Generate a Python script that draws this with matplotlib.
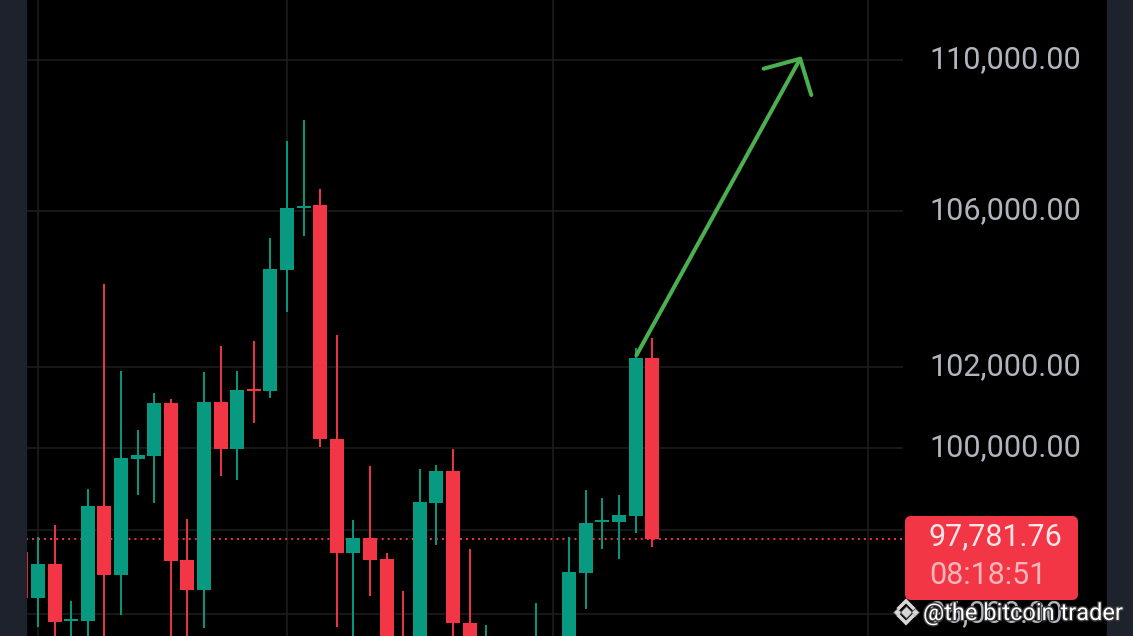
import matplotlib
matplotlib.use("Agg")
import matplotlib.pyplot as plt
import numpy as np
from matplotlib.patches import FancyBboxPatch, Rectangle
from matplotlib.lines import Line2D
from matplotlib.ticker import FixedLocator, NullLocator, FuncFormatter
from matplotlib.transforms import IdentityTransform, ScaledTranslation
from matplotlib import patheffects

plt.rcParams['font.family'] = ['Roboto', 'DejaVu Sans']

# candle data (index -1 is the one cut by the left edge)
candle_idx = list(range(-1, 38))
opens = [97476, 96381, 97190, 95835, 95835, 98585, 96929, 99732, 99805, 101111,
         97286, 96571, 101136, 99976, 101450, 101410, 104461, 106079, 106159, 100222,
         97452, 97810, 97310, 95250, 94900, 98659, 99439, 95788, 94600, 95300,
         94500, 95000, 95100, 95300, 96976, 98190, 98195, 98342, 102231]
highs = [97700, 97833, 98122, 96310, 99000, 104100, 101900, 100444, 101358, 101210,
         98268, 101876, 102538, 101901, 102667, 105282, 107828, 108384, 106556, 102820,
         98244, 99561, 97452, 96548, 99488, 99585, 99976, 97548, 95740, 95400,
         95300, 96262, 95400, 97833, 98976, 98780, 98854, 102487, 102744]
lows = [96200, 95693, 95300, 95200, 95300, 95200, 95976, 98854, 98659, 95300,
        95400, 95670, 99317, 99220, 100617, 101234, 103385, 105333, 100025, 95693,
        95300, 96429, 94900, 94300, 94600, 97643, 95200, 94700, 94200, 94100,
        93900, 94800, 94600, 95000, 96119, 97548, 97310, 97929, 97595]
closes = [96381, 97190, 95811, 95880, 98585, 96929, 99756, 99829, 101111, 97262,
          96571, 101136, 99976, 101432, 101410, 104487, 106079, 106132, 100222, 97452,
          97810, 97286, 95200, 94700, 98683, 99439, 95788, 95000, 95300, 94500,
          95000, 95350, 95300, 97000, 98171, 98244, 98366, 102231, 97781.76]

last_price = 97781.76
countdown = "08:18:51"
price_ticks = [96000, 98000, 100000, 102000, 106000, 110000]
time_grid = [0, 15, 31, 50]
arrow_start = (36.05, 102300)
arrow_end = (46.0, 110100)
watermark = "@the bitcoin trader"

UP = '#089981'
DOWN = '#f23645'
W, H = 1133, 636

fig = plt.figure(figsize=(W / 100, H / 100), dpi=100, facecolor='black')
fig.add_artist(Rectangle((0, 0), 26 / W, 1, transform=fig.transFigure,
                         color='#1e222d', zorder=0.5))
fig.add_artist(Rectangle((1107 / W, 0), 26 / W, 1, transform=fig.transFigure,
                         color='#1e222d', zorder=0.5))

ax = fig.add_axes([26 / W, 0, 877 / W, 1])
ax.set_facecolor('black')
ax.set_yscale('log')
ax.set_ylim(95482, 111634)
ax.set_xlim(-0.723, 52.11)

x = np.array(candle_idx)
o = np.array(opens, dtype=float)
c = np.array(closes, dtype=float)
hi = np.array(highs, dtype=float)
lo = np.array(lows, dtype=float)
cols = np.where(c >= o, UP, DOWN)

ax.vlines(x, lo, hi, colors=cols, linewidth=1.4, zorder=2)
ax.bar(x, np.abs(c - o), bottom=np.minimum(o, c), width=0.84, color=cols,
       linewidth=0, zorder=3)

# last price line
ax.axhline(last_price, color=DOWN, linewidth=1.4, linestyle=(0, (1, 2.1)), zorder=1.5)

# grid and axis
ax.yaxis.set_major_locator(FixedLocator(price_ticks))
ax.yaxis.set_minor_locator(NullLocator())
ax.yaxis.set_major_formatter(FuncFormatter(lambda v, p: f"{v:,.2f}"))
ax.xaxis.set_major_locator(FixedLocator(time_grid))
ax.xaxis.set_minor_locator(NullLocator())
ax.grid(True, color='#1c1c1c', linewidth=1.2, zorder=0)
ax.set_axisbelow(True)
ax.yaxis.tick_right()
ax.tick_params(axis='y', length=0, pad=18.7, labelsize=22, labelcolor='#b2b5be')
ax.tick_params(axis='x', length=0, labelbottom=False)
for s in ax.spines.values():
    s.set_visible(False)
lift = ScaledTranslation(0, 3.5 / 100, fig.dpi_scale_trans)
for lab in ax.get_yticklabels(which='major'):
    lab.set_transform(lab.get_transform() + lift)

# hand drawn arrow
ax.annotate('', xy=arrow_end, xytext=arrow_start,
            arrowprops=dict(arrowstyle='->,head_length=0.95,head_width=0.98',
                            color='#4caf50', lw=2.9, mutation_scale=20,
                            shrinkA=0, shrinkB=0, capstyle='round',
                            joinstyle='round'), zorder=4)

# price label box
fig.add_artist(FancyBboxPatch((905, 36), 173, 84,
                              boxstyle='round,pad=0,rounding_size=6',
                              transform=IdentityTransform(), fc=DOWN, ec='none',
                              zorder=2))
fig.text(929 / W, 1 - 537 / H, f"{last_price:,.2f}", ha='left', va='center',
         fontsize=22, color='#fde6e8', zorder=3)
fig.text(929 / W, 1 - 575 / H, countdown, ha='left', va='center',
         fontsize=22, color='#f8b6bc', zorder=3)

# watermark
lc = '#d6d6d6'
pe = [patheffects.withStroke(linewidth=2, foreground='#3a3a3a')]
cx, cy = 906, 636 - 612
for dx, dy, s in [(0, 0, 6), (-9, 0, 4), (9, 0, 4)]:
    fig.add_artist(Line2D([cx + dx], [cy + dy], marker='D', markersize=s,
                          color=lc, markeredgecolor='#555555', markeredgewidth=0.6,
                          linestyle='none', transform=IdentityTransform(), zorder=5))
for sgn in (1, -1):
    fig.add_artist(Line2D([cx - 7, cx, cx + 7], [cy + sgn * 4, cy + sgn * 11, cy + sgn * 4],
                          color=lc, linewidth=2.6, solid_joinstyle='miter',
                          transform=IdentityTransform(), zorder=5, path_effects=pe))
fig.text(923 / W, 1 - 620 / H, watermark, ha='left', va='baseline', fontsize=17,
         color='white', zorder=6, path_effects=pe)

fig.savefig('out.png', dpi=100, facecolor='black')
